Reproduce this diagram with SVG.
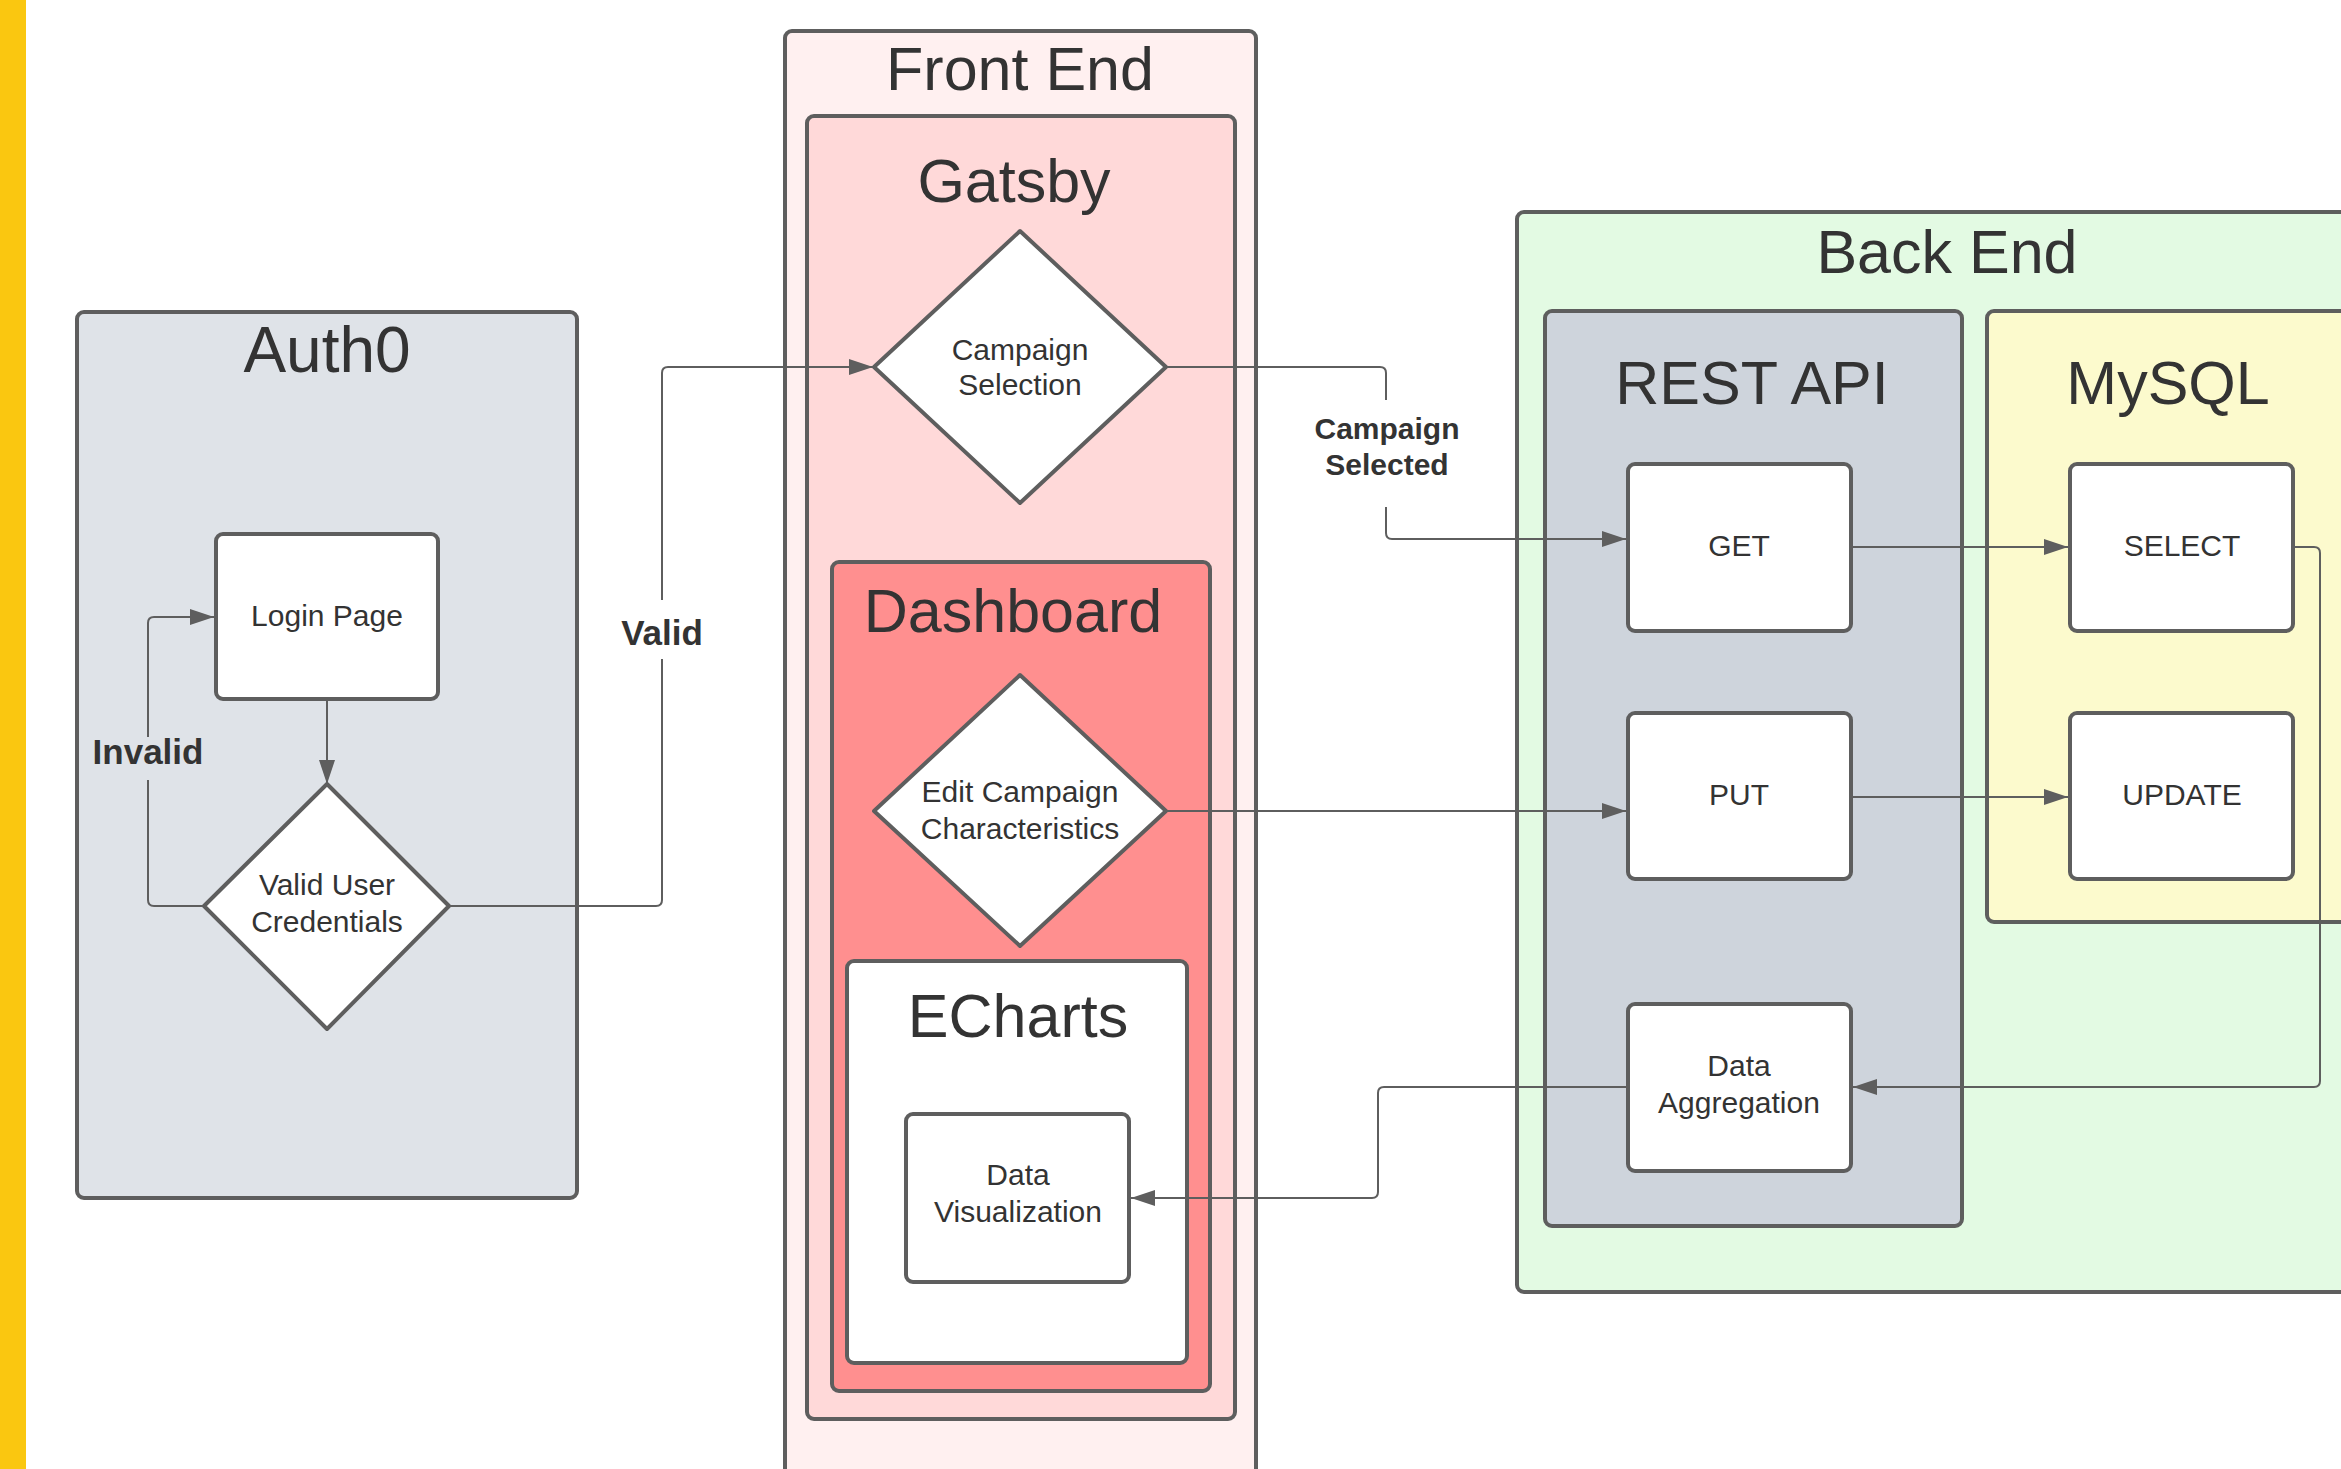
<svg xmlns="http://www.w3.org/2000/svg" width="2341" height="1469" viewBox="0 0 2341 1469">
<defs>
<style>
.box{stroke:#5e5e5e;stroke-width:4;}
.node{fill:#ffffff;stroke:#5e5e5e;stroke-width:4;stroke-linejoin:round;}
.title{font-family:"Liberation Sans",Arial,sans-serif;font-size:61px;fill:#333333;text-anchor:middle;}
.txt{font-family:"Liberation Sans",Arial,sans-serif;font-size:30px;fill:#333333;text-anchor:middle;}
.lbl{font-family:"Liberation Sans",Arial,sans-serif;font-weight:bold;fill:#333333;text-anchor:middle;}
.conn{fill:none;stroke:#5e5e5e;stroke-width:2;stroke-linejoin:round;}
</style>
<marker id="arrow" markerUnits="userSpaceOnUse" markerWidth="26" markerHeight="18" refX="24" refY="8" orient="auto">
<path d="M0,0 L24,8 L0,16 Z" fill="#5e5e5e"/>
</marker>
</defs>
<rect x="0" y="0" width="2341" height="1469" fill="#ffffff"/>
<rect x="0" y="0" width="26" height="1469" fill="#fac710"/>

<g id="auth0">
<rect class="box" x="77" y="312" width="500" height="886" rx="7" fill="#dfe3e8"/>
<text class="title" x="327" y="372" style="font-size:64px">Auth0</text>
</g>
<g id="login-page">
<rect class="node" x="216" y="534" width="222" height="165" rx="7"/>
<text class="txt" x="327" y="626">Login Page</text>
</g>
<g id="valid-user-credentials">
<path class="node" d="M327,784 L449,906 L327,1029 L204,906 Z"/>
<text class="txt" x="327" y="895">Valid User</text>
<text class="txt" x="327" y="932">Credentials</text>
</g>

<g id="front-end">
<rect class="box" x="785" y="31" width="471" height="1446" rx="7" fill="#fff0f0"/>
<text class="title" x="1020" y="90">Front End</text>
</g>
<g id="gatsby">
<rect class="box" x="807" y="116" width="428" height="1303" rx="7" fill="#ffd9d9"/>
<text class="title" x="1014" y="202">Gatsby</text>
</g>
<g id="campaign-selection">
<path class="node" d="M1020,231 L1166,367 L1020,503 L874,367 Z"/>
<text class="txt" x="1020" y="360">Campaign</text>
<text class="txt" x="1020" y="395">Selection</text>
</g>
<g id="dashboard">
<rect class="box" x="832" y="562" width="378" height="829" rx="7" fill="#ff8f8f"/>
<text class="title" x="1013" y="632">Dashboard</text>
</g>
<g id="edit-campaign">
<path class="node" d="M1020,675 L1166,811 L1020,946 L874,811 Z"/>
<text class="txt" x="1020" y="802">Edit Campaign</text>
<text class="txt" x="1020" y="839">Characteristics</text>
</g>
<g id="echarts">
<rect class="box" x="847" y="961" width="340" height="402" rx="7" fill="#ffffff"/>
<text class="title" x="1018" y="1037">ECharts</text>
</g>
<g id="data-visualization">
<rect class="node" x="906" y="1114" width="223" height="168" rx="7"/>
<text class="txt" x="1018" y="1185">Data</text>
<text class="txt" x="1018" y="1222">Visualization</text>
</g>

<g id="back-end">
<rect class="box" x="1517" y="212" width="900" height="1080" rx="7" fill="#e3fae3"/>
<text class="title" x="1947" y="273">Back End</text>
</g>
<g id="rest-api">
<rect class="box" x="1545" y="311" width="417" height="915" rx="7" fill="#ced4dc"/>
<text class="title" x="1752" y="404">REST API</text>
</g>
<g id="mysql">
<rect class="box" x="1987" y="311" width="500" height="611" rx="7" fill="#fcfacd"/>
<text class="title" x="2168" y="404">MySQL</text>
</g>
<g id="get">
<rect class="node" x="1628" y="464" width="223" height="167" rx="7"/>
<text class="txt" x="1739" y="556">GET</text>
</g>
<g id="put">
<rect class="node" x="1628" y="713" width="223" height="166" rx="7"/>
<text class="txt" x="1739" y="805">PUT</text>
</g>
<g id="data-aggregation">
<rect class="node" x="1628" y="1004" width="223" height="167" rx="7"/>
<text class="txt" x="1739" y="1076">Data</text>
<text class="txt" x="1739" y="1113">Aggregation</text>
</g>
<g id="select">
<rect class="node" x="2070" y="464" width="223" height="167" rx="7"/>
<text class="txt" x="2182" y="556">SELECT</text>
</g>
<g id="update">
<rect class="node" x="2070" y="713" width="223" height="166" rx="7"/>
<text class="txt" x="2182" y="805">UPDATE</text>
</g>

<g id="connectors">
<path class="conn" d="M327,699 L327,784" marker-end="url(#arrow)"/>
<path class="conn" d="M204,906 L154,906 Q148,906 148,900 L148,780"/>
<path class="conn" d="M148,737 L148,623 Q148,617 154,617 L214,617" marker-end="url(#arrow)"/>
<text class="lbl" x="148" y="764" style="font-size:35px">Invalid</text>
<path class="conn" d="M449,906 L656,906 Q662,906 662,900 L662,659"/>
<path class="conn" d="M662,600 L662,373 Q662,367 668,367 L873,367" marker-end="url(#arrow)"/>
<text class="lbl" x="662" y="645" style="font-size:35px">Valid</text>
<path class="conn" d="M1166,367 L1380,367 Q1386,367 1386,373 L1386,400"/>
<path class="conn" d="M1386,507 L1386,533 Q1386,539 1392,539 L1626,539" marker-end="url(#arrow)"/>
<text class="lbl" x="1387" y="439" style="font-size:30px">Campaign</text>
<text class="lbl" x="1387" y="475" style="font-size:30px">Selected</text>
<path class="conn" d="M1166,811 L1626,811" marker-end="url(#arrow)"/>
<path class="conn" d="M1851,547 L2068,547" marker-end="url(#arrow)"/>
<path class="conn" d="M1851,797 L2068,797" marker-end="url(#arrow)"/>
<path class="conn" d="M2293,547 L2314,547 Q2320,547 2320,553 L2320,1081 Q2320,1087 2314,1087 L1853,1087" marker-end="url(#arrow)"/>
<path class="conn" d="M1628,1087 L1384,1087 Q1378,1087 1378,1093 L1378,1192 Q1378,1198 1372,1198 L1131,1198" marker-end="url(#arrow)"/>
</g>
</svg>
